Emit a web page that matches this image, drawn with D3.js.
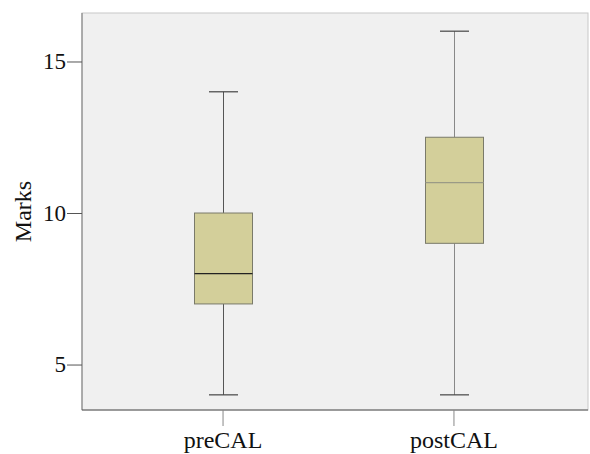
<!DOCTYPE html>
<html>
<head>
<meta charset="utf-8">
<script src="https://cdn.jsdelivr.net/npm/d3@7"></script>
<style>
body { margin: 0; background: #fff; }
svg { display: block; }
svg text { font-family: "Liberation Serif", "DejaVu Serif", serif; }
</style>
</head>
<body>
<div id="chart"></div>
<script>
const groups = ["preCAL", "postCAL"];
const mins = [4, 4];
const q1s = [7, 9];
const medians = [8, 11];
const q3s = [10, 12.5];
const maxs = [14, 16];
const yTicks = [5, 10, 15];

const W = 590, H = 454;
const mLeft = 82, mTop = 13, mRight = 588, mBottom = 410;

let svg = d3.select("#chart").append("svg")
  .attr("width", W)
  .attr("height", H);

let x = d3.scaleBand().domain(groups).range([mLeft + 2.5, mRight + 4.5]).paddingInner(0.56).paddingOuter(0.38);
let y = d3.scaleLinear().domain([3.5, 16.6]).range([mBottom, mTop]);

// plot background
svg.append("rect")
  .attr("x", mLeft).attr("y", mTop)
  .attr("width", mRight - mLeft).attr("height", mBottom - mTop)
  .attr("fill", "#f0f0f0")
  .attr("stroke", "#c8c8c8")
  .attr("stroke-width", 1);

let boxes = groups.map((g, i) => ({
  g: g, min: mins[i], q1: q1s[i], med: medians[i], q3: q3s[i], max: maxs[i]
}));

let bw = 58, cap = 29;
let cx = d => Math.round(x(d.g) + x.bandwidth() / 2) + 0.5;

let gBox = svg.selectAll(".box").data(boxes).enter().append("g");

// whiskers
gBox.append("line")
  .attr("x1", cx).attr("x2", cx)
  .attr("y1", d => y(d.max)).attr("y2", d => y(d.q3))
  .attr("stroke", d => d.g == "preCAL" ? "#555" : "#888").attr("stroke-width", 1);
gBox.append("line")
  .attr("x1", cx).attr("x2", cx)
  .attr("y1", d => y(d.q1)).attr("y2", d => y(d.min))
  .attr("stroke", d => d.g == "preCAL" ? "#555" : "#888").attr("stroke-width", 1);

// caps
["max", "min"].forEach(k => {
  gBox.append("line")
    .attr("x1", d => cx(d) - cap / 2)
    .attr("x2", d => cx(d) + cap / 2)
    .attr("y1", d => y(d[k])).attr("y2", d => y(d[k]))
    .attr("stroke", "#444").attr("stroke-width", 1.2);
});

// box
gBox.append("rect")
  .attr("x", d => cx(d) - bw / 2)
  .attr("y", d => y(d.q3))
  .attr("width", bw)
  .attr("height", d => y(d.q1) - y(d.q3))
  .attr("fill", "#d3cf9a")
  .attr("stroke", "#7a7a6a")
  .attr("stroke-width", 1);

// median
gBox.append("line")
  .attr("x1", d => cx(d) - bw / 2)
  .attr("x2", d => cx(d) + bw / 2)
  .attr("y1", d => y(d.med)).attr("y2", d => y(d.med))
  .attr("stroke", d => d.g == "preCAL" ? "#222" : "#9a9a86")
  .attr("stroke-width", 1.2);

// y axis
let yAxis = svg.append("g")
  .attr("transform", `translate(${mLeft},0)`)
  .call(d3.axisLeft(y).tickValues(yTicks).tickSize(15).tickPadding(1).tickSizeOuter(0));
yAxis.select(".domain").attr("stroke", "#777").attr("d", `M0,${mTop}V${mBottom}`);
yAxis.selectAll(".tick line").attr("stroke", "#555");
yAxis.selectAll("text").attr("font-size", 23).attr("fill", "#111");

// x axis
let xAxis = svg.append("g")
  .attr("transform", `translate(0,${mBottom})`)
  .call(d3.axisBottom(x).tickSize(16).tickPadding(5).tickSizeOuter(0));
xAxis.select(".domain").attr("stroke", "#555").attr("d", `M${mLeft},0H${mRight}`);
xAxis.selectAll(".tick line").attr("stroke", "#888");
xAxis.selectAll("text").attr("font-size", 24).attr("fill", "#111");

// y label
svg.append("text")
  .attr("transform", `translate(31,${(mTop + mBottom) / 2}) rotate(-90)`)
  .attr("text-anchor", "middle")
  .attr("font-size", 24)
  .attr("fill", "#111")
  .text("Marks");
</script>
</body>
</html>
